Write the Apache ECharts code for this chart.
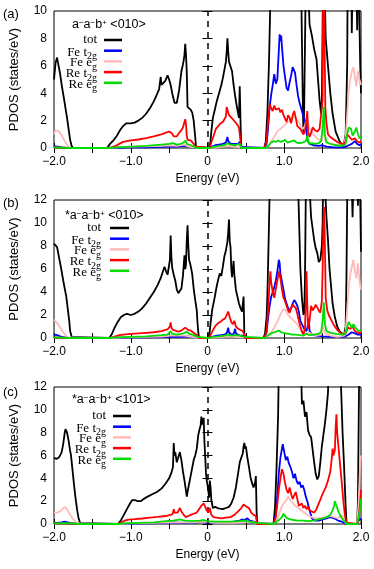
<!DOCTYPE html>
<html>
<head>
<meta charset="utf-8">
<script src="https://cdn.jsdelivr.net/npm/echarts@6/dist/echarts.min.js"></script>
<style>
html, body { margin: 0; padding: 0; background: #fff; }
#chart { width: 374px; height: 569px; }
</style>
</head>
<body>
<div id="chart"></div>
<script>
// ---- panel (a)  a-a-b+ <010> ----
const aTot = [[-2.0,5.0],[-1.98,6.2],[-1.96,6.6],[-1.94,6.0],[-1.92,5.4],[-1.90,4.6],[-1.87,3.6],[-1.85,2.9],[-1.83,2.2],[-1.81,1.4],[-1.79,0.6],[-1.77,0.15],[-1.75,0],
  [-1.31,0],[-1.27,0.3],[-1.22,0.6],[-1.18,0.9],[-1.14,1.3],[-1.10,1.6],[-1.06,1.8],[-1.0,1.8],[-0.95,1.85],[-0.9,2.0],[-0.85,2.2],[-0.8,2.5],[-0.75,2.9],[-0.7,3.4],[-0.66,3.9],[-0.63,4.3],[-0.61,5.2],[-0.60,4.6],[-0.58,4.5],[-0.55,4.9],[-0.52,5.3],[-0.50,5.0],[-0.48,4.6],[-0.46,4.0],[-0.43,3.3],[-0.40,3.3],[-0.37,4.2],[-0.34,5.6],[-0.32,6.1],[-0.31,6.4],[-0.30,6.8],[-0.29,7.6],[-0.28,6.8],[-0.27,5.5],[-0.26,3.0],[-0.24,2.9],[-0.22,2.8],[-0.20,2.6],[-0.18,2.0],[-0.16,0.8],[-0.15,0.1],[-0.14,0],
  [0.03,0],[0.05,1.2],[0.07,2.2],[0.10,2.9],[0.12,3.4],[0.15,4.0],[0.18,4.6],[0.20,5.1],[0.22,5.7],[0.24,6.3],[0.25,7.0],[0.26,8.0],[0.27,7.0],[0.28,6.3],[0.30,6.2],[0.32,5.6],[0.34,4.6],[0.36,3.8],[0.38,3.1],[0.40,2.5],[0.41,2.2],[0.42,4.5],[0.43,2.0],[0.44,0],
  [0.74,0],[0.76,0.5],[0.78,2.5],[0.80,6.0],[0.82,11],[0.84,16],[1.20,16],[1.22,12],[1.24,4.0],[1.25,1.0],[1.26,3.0],[1.28,12],[1.30,16],[1.31,12],[1.33,9.0],[1.36,8.2],[1.39,7.2],[1.42,6.5],[1.44,5.0],[1.46,3.5],[1.48,2.5],[1.49,3.5],[1.50,9],[1.51,16],[1.53,16],[1.54,8],[1.57,6],[1.60,4],[1.63,2.5],[1.67,1.2],[1.72,0.5],[1.77,0.1],[1.79,0],
  [1.80,1.0],[1.82,6],[1.83,16],[1.87,16],[1.88,8.4],[1.90,16],[1.93,16],[1.95,8.6],[1.97,16],[1.98,9],[1.99,6],[2.0,4]]
const aFeT2g = [[-2.0,0.12],[-1.95,0.1],[-1.9,0.05],[-1.85,0.02],[-1.8,0],[-1.3,0],[-1.2,0.02],[-1.0,0.04],[-0.8,0.05],[-0.6,0.08],[-0.5,0.1],[-0.4,0.1],[-0.3,0.15],[-0.28,0.2],[-0.25,0.08],[-0.15,0.02],[-0.14,0],
  [0.03,0],[0.06,0.1],[0.10,0.2],[0.15,0.25],[0.20,0.3],[0.24,0.4],[0.26,0.8],[0.27,0.5],[0.30,0.3],[0.35,0.3],[0.40,0.3],[0.42,0.45],[0.43,0.1],[0.44,0],
  [0.74,0],[0.77,0.3],[0.79,1.5],[0.81,3.0],[0.83,3.9],[0.85,4.6],[0.87,5.4],[0.89,4.7],[0.91,5.0],[0.93,7.2],[0.94,8.3],[0.95,7.8],[0.96,8.2],[0.97,7.4],[0.99,6.0],[1.01,5.2],[1.03,4.4],[1.05,4.2],[1.07,4.8],[1.09,5.3],[1.11,5.9],[1.12,6.0],[1.14,5.5],[1.16,4.6],[1.18,3.8],[1.20,3.3],[1.22,2.9],[1.24,2.5],[1.26,2.6],[1.28,1.8],[1.30,0.6],[1.33,0.3],[1.38,0.2],[1.45,0.15],[1.5,0.2],[1.55,0.1],[1.65,0.05],[1.78,0.05],[1.80,0.1],[1.84,0.2],[1.88,0.3],[1.92,0.5],[1.95,0.3],[1.98,0.2],[2.0,0.25]]
const aFeEg = [[-2.0,1.0],[-1.98,1.3],[-1.96,1.4],[-1.93,1.2],[-1.90,0.9],[-1.87,0.6],[-1.84,0.3],[-1.81,0.1],[-1.78,0],[-1.3,0],[-1.2,0.05],[-1.0,0.1],[-0.8,0.12],[-0.6,0.15],[-0.5,0.2],[-0.4,0.15],[-0.3,0.25],[-0.25,0.1],[-0.15,0.02],[-0.14,0],
  [0.03,0],[0.1,0.05],[0.2,0.1],[0.26,0.15],[0.35,0.1],[0.43,0.05],[0.44,0],
  [0.76,0],[0.80,0.2],[0.83,0.5],[0.87,0.8],[0.91,1.2],[0.95,1.4],[0.99,1.6],[1.03,1.8],[1.07,2.0],[1.10,2.2],[1.13,2.3],[1.16,2.1],[1.19,1.9],[1.22,1.5],[1.25,1.4],[1.28,1.8],[1.30,2.1],[1.33,1.4],[1.37,1.1],[1.41,0.8],[1.45,0.6],[1.49,0.5],[1.51,1.5],[1.53,0.6],[1.57,0.4],[1.62,0.3],[1.7,0.2],[1.78,0.3],[1.80,0.8],[1.82,2.5],[1.84,4.2],[1.86,5.0],[1.88,5.6],[1.90,5.9],[1.92,5.2],[1.94,4.5],[1.96,5.6],[1.98,5.0],[2.0,4.6]]
const aReT2g = [[-2.0,0.05],[-1.9,0.03],[-1.8,0],[-1.3,0],[-1.25,0.05],[-1.2,0.15],[-1.15,0.3],[-1.10,0.45],[-1.05,0.5],[-1.0,0.55],[-0.9,0.62],[-0.8,0.72],[-0.7,0.85],[-0.6,1.0],[-0.55,1.1],[-0.5,1.2],[-0.48,1.15],[-0.46,1.05],[-0.44,0.85],[-0.42,0.75],[-0.40,0.85],[-0.37,1.1],[-0.34,1.3],[-0.32,1.5],[-0.30,1.9],[-0.29,2.1],[-0.28,1.7],[-0.27,0.9],[-0.26,0.6],[-0.24,0.6],[-0.22,0.55],[-0.20,0.5],[-0.18,0.3],[-0.16,0.1],[-0.14,0],
  [0.03,0],[0.05,0.4],[0.08,0.9],[0.11,1.4],[0.14,1.6],[0.17,1.8],[0.20,1.9],[0.22,2.0],[0.24,2.3],[0.25,3.0],[0.26,2.8],[0.28,2.4],[0.30,2.3],[0.33,2.1],[0.36,1.9],[0.39,1.7],[0.41,1.5],[0.42,1.6],[0.43,0.5],[0.44,0],
  [0.74,0],[0.77,0.5],[0.79,2.0],[0.81,3.2],[0.83,2.9],[0.85,2.7],[0.87,3.1],[0.89,2.8],[0.91,2.7],[0.93,2.9],[0.95,2.6],[0.97,2.8],[0.99,2.4],[1.01,2.3],[1.03,1.9],[1.05,2.4],[1.07,2.2],[1.09,1.8],[1.11,2.4],[1.13,2.7],[1.15,2.2],[1.17,1.6],[1.19,1.6],[1.21,1.4],[1.23,1.2],[1.25,1.0],[1.27,1.2],[1.29,2.0],[1.30,2.7],[1.31,1.2],[1.33,0.8],[1.35,1.1],[1.37,1.5],[1.40,1.3],[1.43,1.2],[1.46,1.4],[1.48,1.5],[1.50,3.5],[1.51,16],[1.525,16],[1.535,3.0],[1.55,1.8],[1.57,1.0],[1.60,0.8],[1.65,0.6],[1.70,0.4],[1.75,0.3],[1.78,0.3],[1.80,0.5],[1.82,1.0],[1.85,0.8],[1.88,0.6],[1.92,0.7],[1.95,0.5],[1.98,0.4],[2.0,0.5]]
const aReEg = [[-2.0,0.05],[-1.9,0.03],[-1.8,0],[-1.3,0],[-1.2,0.05],[-1.0,0.1],[-0.8,0.15],[-0.6,0.25],[-0.5,0.3],[-0.45,0.35],[-0.4,0.25],[-0.35,0.3],[-0.31,0.4],[-0.29,0.55],[-0.27,0.3],[-0.22,0.2],[-0.17,0.1],[-0.14,0],
  [0.03,0],[0.08,0.08],[0.15,0.15],[0.22,0.2],[0.26,0.35],[0.30,0.25],[0.36,0.2],[0.42,0.3],[0.44,0],
  [0.76,0],[0.80,0.2],[0.83,0.4],[0.86,0.5],[0.89,0.45],[0.92,0.55],[0.95,0.45],[0.98,0.5],[1.01,0.6],[1.04,0.4],[1.07,0.45],[1.10,0.5],[1.13,0.55],[1.16,0.4],[1.20,0.35],[1.24,0.4],[1.28,0.5],[1.30,0.9],[1.32,0.3],[1.36,0.35],[1.40,0.3],[1.45,0.35],[1.48,0.5],[1.50,1.5],[1.515,3.0],[1.53,1.0],[1.55,0.4],[1.6,0.3],[1.68,0.2],[1.76,0.15],[1.80,0.3],[1.82,1.0],[1.84,1.5],[1.87,1.4],[1.89,0.9],[1.92,1.2],[1.94,1.5],[1.96,1.0],[1.98,0.7],[2.0,0.8]]

// ---- panel (b)  *a-a-b+ <010> ----
const bTot = [[-2.0,8.2],[-1.98,8.3],[-1.96,7.9],[-1.94,7.2],[-1.92,6.5],[-1.90,5.8],[-1.88,5.0],[-1.86,4.3],[-1.84,3.6],[-1.82,2.5],[-1.80,1.4],[-1.79,0.6],[-1.77,0.1],[-1.76,0],
  [-1.28,0],[-1.25,0.3],[-1.21,0.9],[-1.17,1.4],[-1.13,1.8],[-1.09,2.0],[-1.05,2.1],[-1.0,2.0],[-0.95,2.1],[-0.9,2.3],[-0.85,2.6],[-0.80,3.0],[-0.75,3.5],[-0.70,4.0],[-0.65,4.6],[-0.61,5.2],[-0.58,5.8],[-0.56,6.2],[-0.54,5.8],[-0.52,5.5],[-0.50,5.6],[-0.49,6.8],[-0.48,8.9],[-0.47,7.0],[-0.46,6.1],[-0.44,5.5],[-0.42,5.0],[-0.40,4.2],[-0.38,3.9],[-0.36,4.0],[-0.34,4.3],[-0.32,5.4],[-0.30,7.2],[-0.29,6.0],[-0.28,6.4],[-0.27,8.5],[-0.26,9.8],[-0.25,8.0],[-0.24,6.8],[-0.22,6.3],[-0.20,5.6],[-0.18,4.3],[-0.16,3.3],[-0.14,2.4],[-0.13,1.3],[-0.12,0.5],[-0.11,0],
  [0.02,0],[0.04,1.3],[0.06,2.4],[0.09,3.4],[0.12,4.5],[0.14,5.1],[0.16,5.6],[0.18,5.4],[0.20,6.2],[0.22,7.1],[0.24,7.6],[0.26,8.4],[0.27,9.2],[0.28,10.3],[0.29,8.4],[0.30,7.9],[0.31,6.0],[0.32,5.3],[0.33,6.0],[0.34,6.7],[0.35,5.5],[0.37,4.2],[0.39,3.6],[0.41,3.0],[0.43,2.6],[0.45,2.3],[0.46,2.4],[0.47,3.6],[0.48,0.4],[0.49,0],
  [0.73,0],[0.75,0.4],[0.77,1.8],[0.78,3.7],[0.79,6.5],[0.80,9.5],[0.81,13],[0.83,16],[1.17,16],[1.19,11],[1.21,6.0],[1.23,3.5],[1.25,2.0],[1.26,2.2],[1.27,5.0],[1.28,12],[1.29,16],[1.31,16],[1.33,13],[1.35,10.5],[1.37,9.5],[1.39,8.5],[1.41,7.8],[1.43,7.4],[1.45,6.6],[1.47,6.8],[1.49,8.0],[1.50,10],[1.51,16],[1.53,16],[1.55,10.5],[1.57,8.5],[1.59,6.0],[1.61,4.5],[1.63,3.0],[1.66,1.8],[1.69,1.0],[1.72,0.6],[1.75,0.4],[1.78,0.3],
  [1.80,1.0],[1.81,5],[1.82,12],[1.83,16],[1.87,16],[1.89,10.5],[1.91,16],[1.95,16],[1.96,11.5],[1.98,16],[1.99,12],[2.0,7.5]]
const bFeT2g = [[-2.0,0.3],[-1.96,0.25],[-1.92,0.15],[-1.88,0.08],[-1.84,0.03],[-1.8,0],[-1.28,0],[-1.2,0.02],[-1.0,0.05],[-0.8,0.06],[-0.6,0.08],[-0.5,0.12],[-0.48,0.2],[-0.45,0.1],[-0.35,0.1],[-0.27,0.15],[-0.2,0.1],[-0.13,0.03],[-0.11,0],
  [0.02,0],[0.06,0.1],[0.12,0.2],[0.18,0.25],[0.22,0.3],[0.25,0.4],[0.27,0.9],[0.28,0.5],[0.31,0.3],[0.34,0.35],[0.36,0.8],[0.37,0.4],[0.42,0.2],[0.46,0.2],[0.48,0.1],[0.49,0],
  [0.74,0],[0.77,0.5],[0.79,1.8],[0.81,2.8],[0.83,3.6],[0.85,4.0],[0.87,4.4],[0.89,5.0],[0.91,5.8],[0.93,6.8],[0.94,6.5],[0.95,5.6],[0.97,4.9],[0.99,4.2],[1.01,3.4],[1.03,3.0],[1.05,2.6],[1.07,2.4],[1.09,2.6],[1.11,3.0],[1.13,3.3],[1.15,3.1],[1.17,2.8],[1.19,2.3],[1.21,1.5],[1.23,1.2],[1.26,0.8],[1.29,0.6],[1.31,1.2],[1.32,1.7],[1.33,0.6],[1.36,0.3],[1.42,0.2],[1.5,0.15],[1.6,0.1],[1.75,0.1],[1.8,0.15],[1.84,0.3],[1.88,0.5],[1.92,0.4],[1.96,0.3],[2.0,0.3]]
const bFeEg = [[-2.0,1.6],[-1.98,1.5],[-1.96,1.3],[-1.94,1.1],[-1.91,0.8],[-1.88,0.5],[-1.85,0.25],[-1.82,0.05],[-1.8,0],[-1.28,0],[-1.1,0.05],[-0.8,0.1],[-0.6,0.12],[-0.48,0.2],[-0.3,0.2],[-0.2,0.1],[-0.11,0],
  [0.02,0],[0.1,0.05],[0.2,0.1],[0.27,0.15],[0.35,0.1],[0.48,0.05],[0.49,0],
  [0.75,0],[0.79,0.2],[0.83,0.5],[0.87,0.9],[0.90,1.3],[0.93,1.7],[0.96,2.2],[0.99,2.5],[1.02,2.4],[1.05,2.0],[1.08,1.8],[1.11,1.6],[1.14,1.4],[1.17,1.2],[1.20,0.9],[1.23,0.5],[1.26,0.3],[1.29,0.3],[1.32,0.5],[1.36,0.3],[1.42,0.25],[1.48,0.3],[1.51,1.0],[1.53,0.4],[1.6,0.2],[1.7,0.1],[1.78,0.2],[1.80,0.6],[1.82,2.5],[1.84,4.5],[1.86,5.5],[1.88,6.2],[1.90,6.8],[1.92,5.8],[1.94,5.2],[1.96,6.5],[1.98,5.0],[2.0,4.2]]
const bReT2g = [[-2.0,0.05],[-1.9,0.03],[-1.8,0],[-1.28,0],[-1.22,0.1],[-1.15,0.25],[-1.1,0.3],[-1.0,0.35],[-0.9,0.4],[-0.8,0.45],[-0.7,0.5],[-0.6,0.6],[-0.55,0.7],[-0.52,0.75],[-0.50,0.8],[-0.49,1.0],[-0.48,1.35],[-0.47,0.9],[-0.45,0.7],[-0.42,0.65],[-0.39,0.55],[-0.36,0.6],[-0.33,0.7],[-0.31,0.75],[-0.29,0.9],[-0.27,1.0],[-0.25,0.7],[-0.22,0.65],[-0.19,0.5],[-0.16,0.35],[-0.13,0.2],[-0.11,0],
  [0.02,0],[0.05,0.4],[0.08,0.8],[0.11,1.1],[0.14,1.3],[0.17,1.4],[0.20,1.6],[0.23,1.7],[0.25,2.0],[0.27,2.3],[0.29,1.8],[0.31,1.4],[0.33,1.2],[0.35,1.5],[0.37,1.0],[0.40,0.8],[0.43,0.7],[0.46,0.6],[0.48,0.3],[0.49,0],
  [0.74,0],[0.77,0.6],[0.79,2.5],[0.81,5.0],[0.82,5.8],[0.83,4.8],[0.85,4.0],[0.87,3.5],[0.89,3.6],[0.91,5.0],[0.93,5.8],[0.95,5.2],[0.97,4.2],[0.99,3.5],[1.01,3.2],[1.03,2.8],[1.05,2.4],[1.07,2.2],[1.09,2.6],[1.11,2.9],[1.13,2.8],[1.15,2.6],[1.17,2.1],[1.19,1.5],[1.21,1.0],[1.23,0.6],[1.25,0.3],[1.27,0.8],[1.28,3.0],[1.29,5.8],[1.30,3.0],[1.31,0.8],[1.33,1.5],[1.35,2.8],[1.37,2.4],[1.39,2.6],[1.41,2.9],[1.43,3.0],[1.45,2.4],[1.47,2.2],[1.49,3.2],[1.50,6.0],[1.51,10],[1.52,11.4],[1.53,8.0],[1.54,3.5],[1.56,2.4],[1.58,2.0],[1.61,1.6],[1.64,1.2],[1.68,0.8],[1.72,0.5],[1.77,0.3],[1.80,0.4],[1.83,0.9],[1.86,0.8],[1.89,1.0],[1.92,0.6],[1.95,0.5],[1.98,0.4],[2.0,0.5]]
const bReEg = [[-2.0,0.05],[-1.9,0.03],[-1.8,0],[-1.28,0],[-1.2,0.05],[-1.0,0.1],[-0.8,0.15],[-0.6,0.25],[-0.52,0.3],[-0.48,0.6],[-0.46,0.35],[-0.40,0.3],[-0.34,0.35],[-0.30,0.45],[-0.27,0.55],[-0.24,0.35],[-0.18,0.25],[-0.13,0.1],[-0.11,0],
  [0.02,0],[0.08,0.1],[0.15,0.15],[0.22,0.2],[0.27,0.3],[0.31,0.2],[0.36,0.25],[0.42,0.2],[0.48,0.1],[0.49,0],
  [0.75,0],[0.79,0.25],[0.83,0.4],[0.87,0.5],[0.90,0.55],[0.93,0.65],[0.96,0.5],[0.99,0.45],[1.02,0.4],[1.06,0.35],[1.10,0.3],[1.15,0.3],[1.20,0.25],[1.25,0.2],[1.29,0.4],[1.32,0.25],[1.38,0.3],[1.44,0.35],[1.48,0.5],[1.50,1.5],[1.515,3.1],[1.53,1.2],[1.55,0.6],[1.6,0.45],[1.68,0.35],[1.76,0.3],[1.80,0.4],[1.82,1.0],[1.84,1.4],[1.86,1.3],[1.88,0.9],[1.90,1.2],[1.92,1.3],[1.94,0.8],[1.97,0.6],[2.0,0.7]]

// ---- panel (c)  *a-a-b+ <101> ----
const cTot = [[-2.0,5.8],[-1.97,5.7],[-1.94,5.8],[-1.92,6.0],[-1.90,6.3],[-1.88,7.0],[-1.86,8.0],[-1.85,8.3],[-1.83,8.0],[-1.81,7.3],[-1.79,6.4],[-1.78,6.1],[-1.76,4.8],[-1.74,3.5],[-1.72,2.3],[-1.70,1.3],[-1.68,0.5],[-1.66,0.1],[-1.65,0],
  [-1.17,0],[-1.13,0.3],[-1.09,0.8],[-1.05,1.3],[-1.01,1.8],[-0.98,2.1],[-0.95,2.1],[-0.91,2.0],[-0.87,2.0],[-0.83,2.2],[-0.78,2.4],[-0.72,2.6],[-0.66,2.8],[-0.60,3.1],[-0.55,3.5],[-0.50,4.0],[-0.47,4.5],[-0.45,5.0],[-0.44,7.1],[-0.43,6.0],[-0.42,6.3],[-0.40,5.4],[-0.38,5.3],[-0.36,6.3],[-0.34,5.6],[-0.32,4.6],[-0.30,3.8],[-0.28,2.9],[-0.27,2.4],[-0.26,2.8],[-0.24,3.5],[-0.22,4.2],[-0.20,4.9],[-0.18,5.6],[-0.16,6.0],[-0.14,6.6],[-0.12,7.8],[-0.10,8.4],[-0.09,8.6],[-0.08,9.4],[-0.07,8.7],[-0.06,8.6],[-0.05,9.3],[-0.04,7.2],[-0.03,5.9],[-0.02,4.5],[-0.01,3.8],[0.0,3.4],[0.01,3.0],[0.02,2.3],[0.03,3.8],[0.04,3.2],[0.05,2.1],[0.07,1.4],[0.10,1.5],[0.13,1.4],[0.16,1.35],[0.20,1.3],[0.24,1.4],[0.28,1.5],[0.31,1.8],[0.34,2.3],[0.37,3.2],[0.40,4.5],[0.42,5.4],[0.44,5.8],[0.46,6.2],[0.47,6.8],[0.48,7.1],[0.49,6.6],[0.50,6.8],[0.52,5.8],[0.54,5.0],[0.56,4.1],[0.58,3.6],[0.60,3.2],[0.62,3.6],[0.63,4.2],[0.64,1.0],[0.65,0],
  [0.86,0],[0.88,1.5],[0.90,5.0],[0.92,9.5],[0.93,14],[0.95,16],[1.21,16],[1.23,10.5],[1.25,10.8],[1.27,9.4],[1.29,9.8],[1.31,8.2],[1.33,7.8],[1.35,7.6],[1.37,6.5],[1.39,5.4],[1.41,4.4],[1.43,3.9],[1.45,4.2],[1.47,5.4],[1.49,6.8],[1.51,7.8],[1.53,8.8],[1.55,10],[1.57,11.5],[1.59,16],[1.72,16],[1.74,12],[1.76,8.0],[1.78,5.0],[1.80,1.5],[1.81,0.3],[1.82,0],
  [1.95,0],[1.96,2.0],[1.97,9.0],[1.98,16],[2.0,16]]
const cFeT2g = [[-2.0,0.1],[-1.95,0.12],[-1.9,0.15],[-1.86,0.2],[-1.82,0.15],[-1.78,0.08],[-1.72,0.03],[-1.66,0],[-1.17,0],[-1.0,0.03],[-0.8,0.05],[-0.6,0.08],[-0.45,0.15],[-0.3,0.1],[-0.15,0.12],[-0.08,0.2],[0,0.1],[0.1,0.1],[0.2,0.12],[0.3,0.15],[0.38,0.25],[0.42,0.3],[0.45,0.4],[0.48,0.35],[0.52,0.5],[0.55,0.3],[0.6,0.2],[0.64,0.1],[0.65,0],
  [0.86,0],[0.89,0.8],[0.91,2.5],[0.93,4.5],[0.95,5.8],[0.97,6.6],[0.98,7.0],[1.00,6.3],[1.02,5.6],[1.04,5.9],[1.06,5.3],[1.08,5.0],[1.10,4.6],[1.12,4.0],[1.14,4.4],[1.16,3.8],[1.18,3.5],[1.20,3.7],[1.22,3.2],[1.24,3.4],[1.26,3.0],[1.28,2.4],[1.30,2.0],[1.33,1.2],[1.36,0.5],[1.40,0.3],[1.45,0.3],[1.5,0.4],[1.55,0.5],[1.6,0.6],[1.65,0.5],[1.7,0.3],[1.75,0.2],[1.8,0.05],[1.82,0],[1.95,0],[1.97,0.3],[2.0,0.5]]
const cFeEg = [[-2.0,1.0],[-1.96,1.0],[-1.92,1.1],[-1.89,1.3],[-1.86,1.5],[-1.84,1.4],[-1.82,1.2],[-1.79,0.8],[-1.76,0.5],[-1.72,0.2],[-1.68,0.05],[-1.66,0],[-1.17,0],[-1.0,0.05],[-0.7,0.1],[-0.45,0.15],[-0.2,0.15],[-0.05,0.2],[0.1,0.1],[0.3,0.1],[0.45,0.15],[0.55,0.2],[0.64,0.1],[0.65,0],
  [0.86,0],[0.90,0.3],[0.93,0.8],[0.96,1.4],[0.99,1.8],[1.02,2.0],[1.05,2.4],[1.08,2.1],[1.11,1.9],[1.14,1.6],[1.17,1.5],[1.20,1.3],[1.24,1.1],[1.28,0.9],[1.32,0.7],[1.36,0.6],[1.40,0.5],[1.45,0.5],[1.50,0.55],[1.55,0.6],[1.60,0.7],[1.65,0.6],[1.70,0.5],[1.74,0.8],[1.77,0.6],[1.80,0.1],[1.82,0],[1.95,0],[1.97,2.0],[1.99,5.5],[2.0,6.0]]
const cReT2g = [[-2.0,0.05],[-1.9,0.05],[-1.8,0.03],[-1.66,0],[-1.17,0],[-1.13,0.1],[-1.08,0.3],[-1.03,0.38],[-0.95,0.42],[-0.85,0.48],[-0.75,0.55],[-0.65,0.62],[-0.55,0.7],[-0.48,0.8],[-0.45,0.9],[-0.44,1.3],[-0.43,1.0],[-0.41,1.1],[-0.39,1.0],[-0.36,1.4],[-0.34,1.1],[-0.31,0.8],[-0.28,0.6],[-0.25,0.7],[-0.22,0.8],[-0.18,0.9],[-0.14,1.0],[-0.10,1.4],[-0.08,1.6],[-0.05,1.8],[-0.03,1.7],[-0.01,1.2],[0.01,1.0],[0.03,1.4],[0.05,0.8],[0.08,0.6],[0.12,0.55],[0.18,0.5],[0.24,0.55],[0.30,0.6],[0.35,0.8],[0.40,1.1],[0.44,1.4],[0.47,1.7],[0.49,1.8],[0.51,1.5],[0.54,1.4],[0.57,1.0],[0.60,0.8],[0.63,0.7],[0.64,0.2],[0.65,0],
  [0.86,0],[0.89,0.6],[0.91,1.8],[0.93,3.0],[0.95,4.0],[0.97,4.8],[0.99,4.4],[1.01,3.6],[1.03,3.0],[1.05,2.7],[1.07,3.2],[1.09,2.6],[1.11,2.2],[1.13,2.5],[1.15,2.8],[1.17,2.2],[1.19,1.6],[1.21,1.5],[1.23,1.8],[1.25,1.4],[1.27,1.6],[1.29,1.3],[1.31,1.5],[1.33,1.2],[1.36,1.1],[1.39,1.0],[1.42,1.3],[1.45,1.8],[1.48,2.3],[1.51,2.8],[1.54,3.2],[1.57,3.8],[1.60,4.6],[1.62,5.8],[1.63,6.6],[1.64,6.0],[1.66,6.5],[1.67,8.5],[1.68,9.6],[1.69,8.0],[1.71,6.5],[1.73,5.0],[1.75,3.6],[1.77,2.0],[1.79,0.8],[1.81,0.1],[1.82,0],[1.95,0],[1.97,0.5],[1.99,2.0],[2.0,3.0]]
const cReEg = [[-2.0,0.05],[-1.85,0.08],[-1.7,0.02],[-1.66,0],[-1.17,0],[-1.1,0.05],[-0.9,0.1],[-0.7,0.15],[-0.55,0.25],[-0.45,0.3],[-0.44,0.45],[-0.4,0.35],[-0.36,0.4],[-0.3,0.3],[-0.2,0.25],[-0.1,0.3],[-0.05,0.35],[0,0.25],[0.1,0.2],[0.2,0.2],[0.3,0.2],[0.4,0.25],[0.48,0.3],[0.55,0.2],[0.64,0.1],[0.65,0],
  [0.86,0],[0.90,0.2],[0.94,0.4],[0.97,0.6],[0.99,0.9],[1.01,0.7],[1.04,0.5],[1.08,0.4],[1.12,0.35],[1.18,0.3],[1.25,0.3],[1.32,0.25],[1.38,0.3],[1.44,0.4],[1.50,0.5],[1.55,0.6],[1.60,0.8],[1.63,1.2],[1.65,1.6],[1.66,2.0],[1.68,1.6],[1.71,1.0],[1.75,0.5],[1.79,0.2],[1.82,0],[1.95,0],[1.97,0.6],[1.99,1.5],[2.0,2.2]]

const seriesNames = ['tot', 'Fe t2g', 'Fe eg', 'Re t2g', 'Re eg']
const panelLabels = ['(a)', '(b)', '(c)']
const panelTitles = [
    '{b|a}{p|\u2212}{b|a}{p|\u2212}{b|b}{p|+}{b| <010>}',
    '{b|*a}{p|\u2212}{b|a}{p|\u2212}{b|b}{p|+}{b| <010>}',
    '{b|*a}{p|\u2212}{b|a}{p|\u2212}{b|b}{p|+}{b| <101>}'
]
const yMaxes = [10, 12, 12]
const xTickValues = [-2, -1, 0, 1, 2]
const xTickTexts = ['\u22122.0', '\u22121.0', '0', '1.0', '2.0']
const panelData = [
    [aTot, aFeT2g, aFeEg, aReT2g, aReEg],
    [bTot, bFeT2g, bFeEg, bReT2g, bReEg],
    [cTot, cFeT2g, cFeEg, cReT2g, cReEg]
]

const colors = ['#000000', '#0000ff', '#ffbaba', '#ff0000', '#00dd00']
const legendRich = ['{n|tot}', '{n|Fe t}{s|2g}', '{n|Fe e}{s|g}', '{n|Re t}{s|2g}', '{n|Re e}{s|g}']
const sans = '"Liberation Sans", Arial, sans-serif'
const serif = '"Liberation Serif", "Times New Roman", serif'

// plot boxes (pixels) and legend placement per panel
const frames = [
    { top: 11, height: 137, labelY: 14, titleX: 72, titleY: 25, textRight: 97, lineX: [104, 122], rowY: 40 },
    { top: 200, height: 138, labelY: 203, titleX: 65, titleY: 216, textRight: 101, lineX: [110, 129], rowY: 228 },
    { top: 387, height: 137, labelY: 392, titleX: 72, titleY: 400, textRight: 106, lineX: [113, 131], rowY: 416 }
]
const rowGap = 10.7

const tickStyle = { inside: true, length: 5, lineStyle: { color: '#000', width: 1 } }

const xLabel = (v) => {
    const i = xTickValues.findIndex(t => Math.abs(t - v) < 1e-6)
    return i >= 0 ? xTickTexts[i] : ''
}

const grids = []
const xAxes = []
const yAxes = []
const series = []
const graphics = []

frames.forEach((f, i) => {
    grids.push({
        left: 52, width: 309, top: f.top, height: f.height,
        show: true, borderColor: '#000', borderWidth: 1, backgroundColor: 'transparent'
    })
    xAxes.push({
        type: 'value', gridIndex: i, min: -2, max: 2, interval: 0.5,
        name: 'Energy (eV)', nameLocation: 'middle', nameGap: 25,
        nameTextStyle: { fontFamily: sans, fontSize: 12, color: '#000' },
        axisLine: { show: false },
        splitLine: { show: false },
        axisTick: tickStyle,
        axisLabel: { margin: 8, fontFamily: sans, fontSize: 12, color: '#000', formatter: xLabel, showMinLabel: true, showMaxLabel: true }
    })
    xAxes.push({
        type: 'value', gridIndex: i, position: 'top', min: -2, max: 2, interval: 0.5,
        axisLine: { show: false }, splitLine: { show: false },
        axisTick: tickStyle, axisLabel: { show: false }
    })
    yAxes.push({
        type: 'value', gridIndex: i, min: 0, max: yMaxes[i], interval: 2,
        name: 'PDOS (states/eV)', nameLocation: 'middle', nameGap: 33,
        nameTextStyle: { fontFamily: sans, fontSize: 13, color: '#000' },
        axisLine: { show: false },
        splitLine: { show: false },
        axisTick: tickStyle,
        axisLabel: { margin: 7, fontFamily: sans, fontSize: 12, color: '#000' }
    })
    yAxes.push({
        type: 'value', gridIndex: i, position: 'right', min: 0, max: yMaxes[i], interval: 2,
        axisLine: { show: false }, splitLine: { show: false },
        axisTick: tickStyle, axisLabel: { show: false }
    })

    panelData[i].forEach((data, k) => {
        const s = {
            name: seriesNames[k],
            type: 'line',
            xAxisIndex: 2 * i,
            yAxisIndex: 2 * i,
            data: data,
            symbol: 'none',
            showSymbol: false,
            clip: true,
            lineStyle: { color: colors[k], width: 1.8 },
            itemStyle: { color: colors[k] },
            z: 2 + k
        }
        if (k === 0) {
            // Fermi level
            s.markLine = {
                silent: true,
                symbol: 'none',
                label: { show: false },
                lineStyle: { color: '#000', width: 1.5, type: [6, 5] },
                data: [{ xAxis: 0 }]
            }
        }
        series.push(s)

        // legend row: serif text with lowered subscript, then a short coloured line
        graphics.push({
            type: 'text',
            style: {
                text: legendRich[k], x: f.textRight, y: f.rowY + k * rowGap - (k === 0 ? 7 : 5),
                align: 'right', verticalAlign: 'top',
                rich: {
                    n: { fontFamily: serif, fontSize: 13, lineHeight: 13, verticalAlign: 'top', fill: '#000' },
                    s: { fontFamily: serif, fontSize: 10, lineHeight: 16, verticalAlign: 'bottom', fill: '#000' }
                }
            }
        })
        graphics.push({
            type: 'line',
            shape: { x1: f.lineX[0], y1: f.rowY + k * rowGap, x2: f.lineX[1], y2: f.rowY + k * rowGap },
            style: { stroke: colors[k], lineWidth: 2.5 }
        })
    })

    graphics.push({
        type: 'text',
        style: {
            text: panelTitles[i], x: f.titleX, y: f.titleY, align: 'left', verticalAlign: 'middle',
            rich: {
                b: { fontFamily: sans, fontSize: 12.5, lineHeight: 13, verticalAlign: 'bottom', fill: '#000' },
                p: { fontFamily: sans, fontSize: 8, lineHeight: 8, verticalAlign: 'top', fill: '#000' }
            }
        }
    })
    graphics.push({
        type: 'text',
        style: { text: panelLabels[i], x: 3, y: f.labelY, verticalAlign: 'middle', fontFamily: sans, fontSize: 13, fill: '#000' }
    })
})

const chart = echarts.init(document.getElementById('chart'))
chart.setOption({
    animation: false,
    backgroundColor: '#fff',
    grid: grids,
    xAxis: xAxes,
    yAxis: yAxes,
    series: series,
    graphic: graphics
})
</script>
</body>
</html>
